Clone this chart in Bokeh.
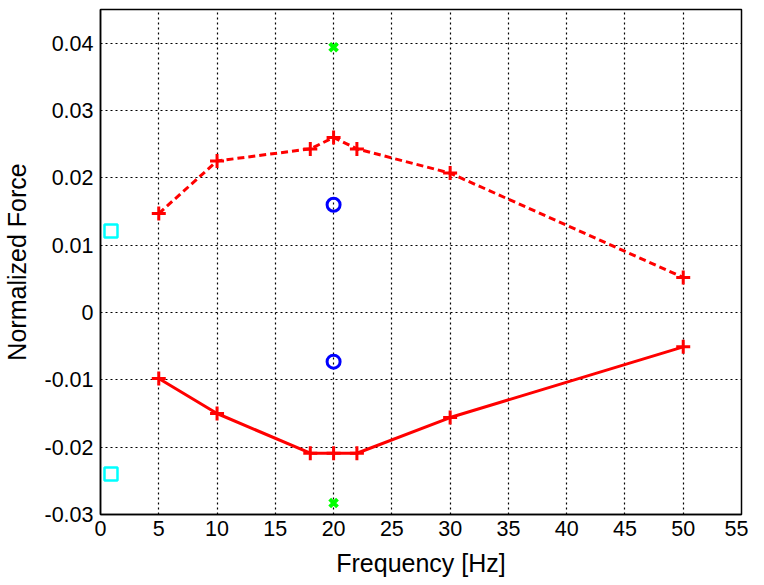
from bokeh.plotting import figure
from bokeh.models import Range1d, FixedTicker, CustomJSTickFormatter
from bokeh.embed import file_html
from bokeh.resources import INLINE

# Data
freq = [5, 10, 18, 20, 22, 30, 50]
upper_force = [0.0147, 0.0225, 0.0243, 0.0260, 0.0243, 0.0207, 0.0052]
lower_force = [-0.0098, -0.0150, -0.0209, -0.0209, -0.0209, -0.0156, -0.0051]
circle_x = [20, 20]
circle_y = [0.0160, -0.0073]
xmark_x = [20, 20]
xmark_y = [0.0394, -0.0283]
square_x = [0.9, 0.9]
square_y = [0.0121, -0.0240]
x_ticks = [0, 5, 10, 15, 20, 25, 30, 35, 40, 45, 50, 55]
y_ticks = [-0.03, -0.02, -0.01, 0, 0.01, 0.02, 0.03, 0.04]

FONT = "Liberation Sans"

p = figure(width=748, height=584, output_backend="svg", toolbar_location=None,
           x_range=Range1d(0, 55), y_range=Range1d(-0.03, 0.045),
           min_border_left=100, min_border_right=7, min_border_top=9, min_border_bottom=70)

p.background_fill_color = "white"
p.border_fill_color = "white"
p.outline_line_color = "black"
p.outline_line_width = 1.5

for ax in (p.xaxis[0], p.yaxis[0]):
    ax.axis_line_color = "black"
    ax.axis_line_width = 1.5
    ax.major_tick_in = 0
    ax.major_tick_out = 0
    ax.minor_tick_line_color = None
    ax.major_label_text_font = FONT
    ax.major_label_text_font_size = "21.5px"
    ax.major_label_text_color = "black"
    ax.axis_label_text_font = FONT
    ax.axis_label_text_font_size = "25px"
    ax.axis_label_text_font_style = "normal"
    ax.axis_label_text_color = "black"

p.xaxis.ticker = FixedTicker(ticks=x_ticks)
p.yaxis.ticker = FixedTicker(ticks=y_ticks)
p.yaxis.formatter = CustomJSTickFormatter(code="return Math.abs(tick) < 1e-9 ? '0' : tick.toFixed(2);")
p.xaxis.major_label_standoff = 6
p.yaxis.major_label_standoff = 7
p.xaxis.axis_label = "Frequency [Hz]"
p.yaxis.axis_label = "Normalized Force"
p.xaxis.axis_label_standoff = 10
p.yaxis.axis_label_standoff = 10

for g in (p.xgrid[0], p.ygrid[0]):
    g.grid_line_color = "black"
    g.grid_line_dash = "2 3"
    g.grid_line_width = 1.2
    g.grid_line_alpha = 1.0

red = "#ff0000"
p.line(freq, upper_force, line_color=red, line_width=3, line_dash="7 4")
p.scatter(freq, upper_force, marker="cross", size=14, line_color=red, line_width=3)
p.line(freq, lower_force, line_color=red, line_width=3)
p.scatter(freq, lower_force, marker="cross", size=14, line_color=red, line_width=3)

p.scatter(circle_x, circle_y, marker="circle", size=13, fill_color=None,
          line_color="#0000ff", line_width=3)
p.scatter(xmark_x, xmark_y, marker="x", size=11, line_color="#00ff00", line_width=4)
p.scatter(square_x, square_y, marker="square", size=13, fill_color=None,
          line_color="#00ffff", line_width=2.5)

open("out.html", "w").write(file_html(p, INLINE))
